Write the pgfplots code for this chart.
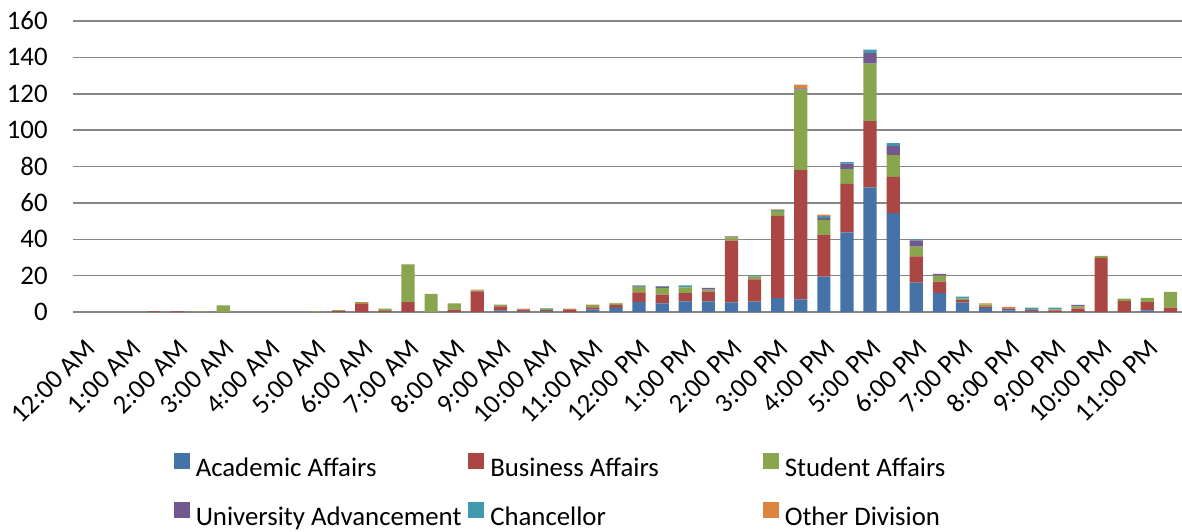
\documentclass[border=0pt]{standalone}
\usepackage{pgfplots}
\pgfplotsset{compat=1.18}
\usepackage{pgfplotstable}
\usepackage{fontspec}
\setmainfont{Carlito}

\definecolor{acad}{HTML}{4572A7}
\definecolor{busi}{HTML}{AA4643}
\definecolor{stud}{HTML}{89A54E}
\definecolor{univ}{HTML}{71588F}
\definecolor{chan}{HTML}{4198AF}
\definecolor{other}{HTML}{DB843D}
\definecolor{gridgray}{HTML}{868686}

% half-hour slots, 0 = 12:00 AM ... 47 = 11:30 PM
\pgfplotstableread{
slot A B S U C O
0 0 0 0 0 0 0
1 0 0 0 0 0 0
2 0 0 0 0 0 0
3 0 0.3 0 0 0 0
4 0 0.3 0 0 0 0
5 0 0 0.3 0 0 0
6 0 0 3.7 0 0 0
7 0 0 0 0 0 0
8 0 0 0 0 0 0
9 0 0 0 0 0 0
10 0 0 0.4 0 0 0
11 0 0.5 0.6 0 0 0
12 0 4.5 0.5 0 0 0.5
13 0 0.6 1.2 0 0 0
14 0 5.5 20.7 0 0 0
15 0 0 10.0 0 0 0
16 0 1.3 3.5 0 0 0
17 0 11.4 0.5 0 0 0.4
18 0.7 2.4 0.9 0 0 0
19 0.3 1.0 0 0 0 0.5
20 0.4 0.7 0.7 0 0.4 0
21 0 1.4 0 0 0 0.4
22 1.3 1.2 1.3 0 0 0.3
23 2.3 1.5 0.9 0 0 0.3
24 5.6 5.2 2.9 0.4 0.6 0
25 4.8 4.7 3.7 0.7 0.3 0
26 5.9 4.5 3.1 0 1.1 0
27 5.9 5.3 1.1 0.9 0 0
28 5.3 33.9 1.8 0.4 0 0.3
29 5.7 12.2 1.5 0 0.6 0
30 7.7 45.2 2.6 0 0.5 0.4
31 7.0 71.0 44.3 0.7 0 2.0
32 19.4 22.9 8.4 1.1 0.9 0.9
33 43.8 26.7 8.0 3.1 0.8 0
34 68.5 36.5 31.6 5.8 1.9 0
35 54.4 19.9 11.9 5.2 1.4 0
36 16.1 14.5 5.3 3.3 0.7 0
37 10.4 6.3 3.3 1.0 0 0
38 5.2 1.3 0.9 0 1.1 0
39 2.2 0.9 1.0 0 0 0.7
40 0.9 1.0 0 0 0.4 0.5
41 0.3 1.0 0 0 1.1 0
42 0 0.9 0.6 0 0.9 0
43 0 1.9 1.2 0.8 0 0
44 0 29.8 1.1 0 0 0
45 0 6.1 1.3 0 0 0
46 0.9 4.5 2.4 0 0 0
47 0 2.4 8.7 0 0 0
}\divisions

\begin{document}
\begin{tikzpicture}
\useasboundingbox (0pt,0pt) rectangle (591pt,265.5pt);
\begin{axis}[
    at={(36.5pt,109.5pt)}, anchor=south west,
    scale only axis,
    width=554.5pt, height=145.5pt,
    ybar stacked,
    bar width=6.6pt,
    xmin=-0.5, xmax=47.5,
    ymin=0, ymax=160,
    ytick={0,20,...,160},
    xtick={0,2,...,46},
    xticklabels={12:00 AM,1:00 AM,2:00 AM,3:00 AM,4:00 AM,5:00 AM,6:00 AM,7:00 AM,8:00 AM,9:00 AM,10:00 AM,11:00 AM,12:00 PM,1:00 PM,2:00 PM,3:00 PM,4:00 PM,5:00 PM,6:00 PM,7:00 PM,8:00 PM,9:00 PM,10:00 PM,11:00 PM},
    axis x line*=bottom,
    axis y line*=left,
    y axis line style={draw=none},
    x axis line style={draw=gridgray, line width=0.75pt, -},
    tick style={draw=none},
    ymajorgrids,
    major grid style={draw=gridgray, line width=0.75pt},
    /pgf/number format/assume math mode=true,
    ticklabel style={font=\fontsize{13.4}{13.4}\selectfont},
    yticklabel style={inner sep=0pt, xshift=-12.5pt},
    xticklabel style={inner sep=0pt, yshift=-12.5pt, rotate=45, anchor=north east},
    legend columns=3,
    legend style={draw=none, fill=none, inner sep=0pt,
        at={(0.0905,-0.483)}, anchor=north west,
        font=\fontsize{13.4}{13.4}\selectfont,
        nodes={inner sep=0pt},
        row sep=11pt,
        /tikz/every odd column/.append style={column sep=3pt},
        /tikz/every even column/.append style={column sep=0pt}},
    legend image code/.code={\fill[#1] (0pt,0pt) rectangle (8pt,8pt);},
]
\addplot[fill=acad, draw=none] table[x=slot, y=A] {\divisions};
\addplot[fill=busi, draw=none] table[x=slot, y=B] {\divisions};
\addplot[fill=stud, draw=none] table[x=slot, y=S] {\divisions};
\addplot[fill=univ, draw=none] table[x=slot, y=U] {\divisions};
\addplot[fill=chan, draw=none] table[x=slot, y=C] {\divisions};
\addplot[fill=other, draw=none] table[x=slot, y=O] {\divisions};
\addlegendentry{\makebox[136.25pt][l]{Academic Affairs}}
\addlegendentry{\makebox[136.25pt][l]{Business Affairs}}
\addlegendentry{\makebox[136.25pt][l]{Student Affairs}}
\addlegendentry{\makebox[136.25pt][l]{University Advancement}}
\addlegendentry{\makebox[136.25pt][l]{Chancellor}}
\addlegendentry{\makebox[136.25pt][l]{Other Division}}
\end{axis}
\end{tikzpicture}
\end{document}
